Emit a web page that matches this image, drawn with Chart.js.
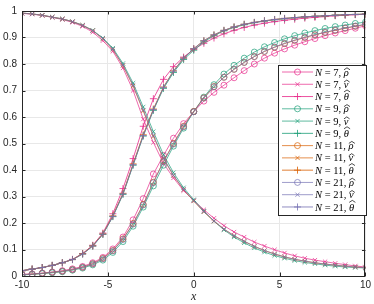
<!DOCTYPE html>
<html>
<head>
<meta charset="utf-8">
<script src="https://cdn.jsdelivr.net/npm/chart.js@4.4.1/dist/chart.umd.min.js"></script>
<style>
html,body{margin:0;padding:0;background:#fff;}
#wrap{position:relative;width:374px;height:304px;}
canvas{display:block;}
</style>
</head>
<body>
<div id="wrap"><canvas id="c" width="374" height="304"></canvas></div>
<script>
// ---- data ----
const xs = [-10,-9.41,-8.82,-8.24,-7.65,-7.06,-6.47,-5.88,-5.29,-4.71,-4.12,-3.53,-2.94,-2.35,-1.76,-1.18,-0.59,0,0.59,1.18,1.76,2.35,2.94,3.53,4.12,4.71,5.29,5.88,6.47,7.06,7.65,8.24,8.82,9.41,10];

const rho7  = [0.006,0.008,0.011,0.015,0.020,0.027,0.036,0.050,0.070,0.102,0.147,0.212,0.292,0.385,0.455,0.520,0.575,0.620,0.660,0.693,0.720,0.748,0.775,0.800,0.822,0.841,0.857,0.871,0.884,0.896,0.907,0.917,0.926,0.935,0.944];
const v7    = [0.991,0.988,0.983,0.976,0.968,0.957,0.942,0.920,0.888,0.848,0.785,0.700,0.592,0.504,0.425,0.370,0.322,0.285,0.250,0.218,0.190,0.166,0.147,0.128,0.113,0.099,0.087,0.076,0.067,0.060,0.054,0.048,0.043,0.038,0.034];
const th7   = [0.020,0.026,0.032,0.040,0.050,0.063,0.085,0.116,0.162,0.235,0.330,0.443,0.565,0.669,0.742,0.790,0.826,0.855,0.878,0.898,0.914,0.927,0.938,0.947,0.954,0.960,0.965,0.969,0.973,0.976,0.979,0.982,0.984,0.986,0.988];

const rho9  = [0.004,0.006,0.009,0.012,0.016,0.022,0.030,0.042,0.060,0.089,0.130,0.188,0.260,0.340,0.418,0.490,0.558,0.620,0.675,0.722,0.762,0.795,0.822,0.845,0.865,0.881,0.895,0.907,0.917,0.926,0.934,0.941,0.947,0.953,0.958];
const v9    = [0.992,0.989,0.984,0.977,0.970,0.960,0.946,0.927,0.898,0.860,0.802,0.728,0.638,0.545,0.458,0.390,0.333,0.288,0.245,0.207,0.174,0.147,0.125,0.106,0.090,0.077,0.067,0.058,0.051,0.046,0.041,0.037,0.034,0.032,0.030];
const th9   = [0.020,0.026,0.032,0.040,0.050,0.062,0.083,0.113,0.157,0.224,0.308,0.418,0.528,0.625,0.708,0.768,0.817,0.852,0.884,0.907,0.925,0.938,0.948,0.956,0.962,0.967,0.971,0.975,0.978,0.980,0.982,0.984,0.986,0.987,0.988];

const rho11 = [0.005,0.007,0.010,0.014,0.018,0.024,0.033,0.046,0.066,0.096,0.140,0.198,0.270,0.354,0.433,0.500,0.565,0.621,0.672,0.715,0.750,0.780,0.806,0.828,0.847,0.863,0.877,0.889,0.900,0.910,0.919,0.927,0.935,0.942,0.949];
const v11   = [0.992,0.989,0.984,0.977,0.970,0.960,0.946,0.926,0.895,0.855,0.794,0.717,0.623,0.527,0.443,0.379,0.326,0.283,0.242,0.207,0.177,0.152,0.131,0.112,0.096,0.083,0.072,0.063,0.056,0.050,0.045,0.041,0.037,0.034,0.031];
const th11  = [0.020,0.026,0.032,0.040,0.050,0.062,0.084,0.114,0.159,0.227,0.312,0.423,0.533,0.630,0.713,0.774,0.822,0.858,0.888,0.910,0.927,0.940,0.950,0.957,0.963,0.968,0.972,0.975,0.978,0.980,0.982,0.984,0.986,0.987,0.988];

const rho21 = [0.005,0.007,0.010,0.014,0.018,0.024,0.033,0.046,0.065,0.095,0.138,0.196,0.268,0.352,0.431,0.498,0.563,0.620,0.671,0.714,0.750,0.780,0.806,0.828,0.848,0.864,0.878,0.890,0.901,0.911,0.920,0.928,0.936,0.943,0.950];
const v21   = [0.992,0.989,0.984,0.977,0.970,0.960,0.946,0.926,0.896,0.856,0.796,0.720,0.626,0.530,0.445,0.380,0.327,0.284,0.243,0.208,0.177,0.152,0.131,0.112,0.096,0.083,0.072,0.063,0.056,0.050,0.045,0.041,0.037,0.034,0.031];
const th21  = [0.020,0.026,0.032,0.040,0.050,0.062,0.083,0.113,0.158,0.225,0.310,0.420,0.530,0.628,0.712,0.773,0.822,0.858,0.888,0.910,0.927,0.940,0.950,0.957,0.963,0.968,0.972,0.975,0.978,0.980,0.982,0.984,0.986,0.987,0.988];

const xTicks = [-10,-5,0,5,10];
const yTicks = [0,0.1,0.2,0.3,0.4,0.5,0.6,0.7,0.8,0.9,1];
const Ns = [7,9,11,21];
const seriesColors = ['231,41,138','27,158,119','217,95,2','117,112,179'];
const estimators = [
  {sym:'ρ', label:'ρ̂', style:'circle', radius:3, tall:false},
  {sym:'v', label:'v̂', style:'crossRot', radius:3, tall:false},
  {sym:'θ', label:'θ̂', style:'cross', radius:3.5, tall:true}
];
const values = [[rho7,v7,th7],[rho9,v9,th9],[rho11,v11,th11],[rho21,v21,th21]];

// ---- datasets ----
const datasets = [];
Ns.forEach((n,i)=>{
  estimators.forEach((e,j)=>{
    const col = 'rgba('+seriesColors[i]+','+(j===2?0.8:0.7)+')';
    datasets.push({
      label:'N = '+n+', '+e.label,
      data: xs.map((x,k)=>({x:x,y:values[i][j][k]})),
      borderColor: col,
      backgroundColor: 'rgba(0,0,0,0)',
      borderWidth: 1,
      pointStyle: e.style,
      pointRadius: e.radius,
      pointBorderWidth: 1,
      pointBorderColor: col,
      pointBackgroundColor: 'rgba(0,0,0,0)',
      tension: 0,
      _n:n, _sym:e.sym, _tall:e.tall, _style:e.style, _r:e.radius,
      order: 12 - datasets.length
    });
  });
});

const boxPlugin = {
  id:'boxPlugin',
  afterDraw(chart){
    const ctx = chart.ctx, a = chart.chartArea;
    const xs_ = chart.scales.x, ys_ = chart.scales.y;
    ctx.save();
    ctx.strokeStyle = '#262626';
    ctx.lineWidth = 1;
    ctx.strokeRect(Math.round(a.left)+0.5, Math.round(a.top)+0.5, Math.round(a.right-a.left)-1, Math.round(a.bottom-a.top));
    ctx.beginPath();
    const tl = 3.5;
    xTicks.forEach(v=>{
      const px = Math.round(xs_.getPixelForValue(v))+0.5;
      ctx.moveTo(px,a.bottom); ctx.lineTo(px,a.bottom-tl);
      ctx.moveTo(px,a.top); ctx.lineTo(px,a.top+tl);
    });
    yTicks.forEach(v=>{
      const py = Math.round(ys_.getPixelForValue(v))+0.5;
      ctx.moveTo(a.left,py); ctx.lineTo(a.left+tl,py);
      ctx.moveTo(a.right,py); ctx.lineTo(a.right-tl,py);
    });
    ctx.stroke();

    // legend
    const lx = 278, ly = 65, lw = 88, lh = 150;
    ctx.fillStyle = '#fff';
    ctx.fillRect(lx, ly, lw, lh);
    ctx.strokeStyle = '#262626';
    ctx.strokeRect(lx+0.5, ly+0.5, lw, lh);
    const step = 12.27;
    chart.data.datasets.forEach((d,i)=>{
      const y = ly + 7 + i*step;
      ctx.strokeStyle = d.borderColor;
      ctx.fillStyle = 'rgba(0,0,0,0)';
      ctx.lineWidth = 1;
      ctx.beginPath(); ctx.moveTo(282,y); ctx.lineTo(313,y); ctx.stroke();
      Chart.helpers.drawPoint(ctx,{pointStyle:d._style, radius:d._r, borderWidth:1, rotation:0}, 297.5, y);
      // text
      ctx.fillStyle = '#000';
      ctx.textBaseline = 'alphabetic';
      const base = y + 3.6;
      let x = 315;
      const parts = [
        ['italic 10.5px "Liberation Serif"','N'],
        ['10.5px "Liberation Serif"',' = '+d._n+', ']
      ];
      parts.forEach(p=>{ ctx.font = p[0]; ctx.fillText(p[1], x, base); x += ctx.measureText(p[1]).width; });
      ctx.font = 'italic 10.5px "Liberation Serif"';
      ctx.fillText(d._sym, x, base);
      const w = ctx.measureText(d._sym).width;
      const top = base - (d._tall ? 7.6 : 5.2);
      ctx.strokeStyle = '#000';
      ctx.lineWidth = 0.7;
      ctx.beginPath();
      ctx.moveTo(x+0.3, top-0.6);
      ctx.lineTo(x+w/2+0.8, top-2.6);
      ctx.lineTo(x+w+1.3, top-0.6);
      ctx.stroke();
    });
    ctx.restore();
  }
};

new Chart(document.getElementById('c'),{
  type:'line',
  data:{datasets},
  plugins:[boxPlugin],
  options:{
    responsive:false,
    devicePixelRatio:1,
    animation:false,
    layout:{padding:{top:3,right:5,left:0,bottom:0}},
    plugins:{legend:{display:false},tooltip:{enabled:false}},
    scales:{
      x:{
        type:'linear', min:-10, max:10,
        afterBuildTicks(s){ s.ticks = xTicks.map(v=>({value:v})); },
        afterFit(s){ s.height = 28; },
        ticks:{font:{family:'"Liberation Sans"',size:10},color:'#262626',padding:3,maxRotation:0,
          callback:v=>String(v)},
        grid:{color:'#e8e8e8',drawTicks:false,lineWidth:1},
        border:{display:false},
        title:{display:true,text:'x',font:{family:'"Liberation Serif"',style:'italic',size:12},color:'#262626',padding:{top:0,bottom:0}}
      },
      y:{
        type:'linear', min:0, max:1,
        afterBuildTicks(s){ s.ticks = yTicks.map(v=>({value:v})); },
        afterFit(s){ s.width = 22; },
        ticks:{font:{family:'"Liberation Sans"',size:10},color:'#262626',padding:5,
          callback:v=>(v===0||v===1)?String(v):v.toFixed(1)},
        grid:{color:'#e8e8e8',drawTicks:false,lineWidth:1},
        border:{display:false}
      }
    }
  }
});
</script>
</body>
</html>
